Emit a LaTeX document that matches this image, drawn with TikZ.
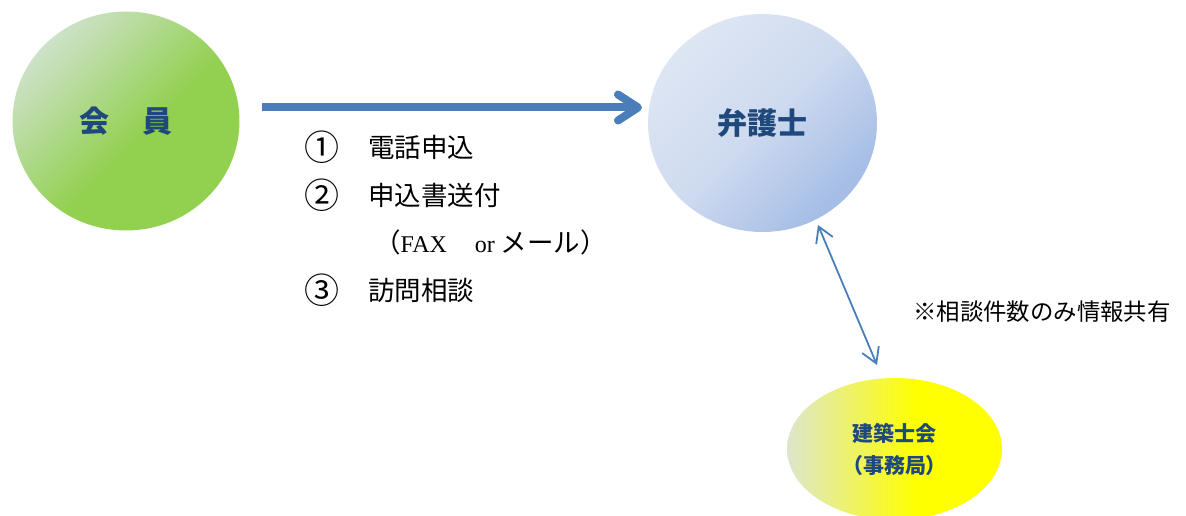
\documentclass[tikz,border=0pt]{standalone}
\usepackage{fontspec}
\setmainfont{Liberation Serif}
\newfontfamily\jp{Noto Sans CJK JP}
\newfontfamily\jpp[RawFeature=+palt]{Noto Sans CJK JP}
\usetikzlibrary{arrows.meta,shapes.geometric}
\definecolor{txtblue}{RGB}{31,73,125}
\definecolor{arrblue}{RGB}{74,126,187}
\definecolor{grnL}{RGB}{205,226,200}
\definecolor{grnD}{RGB}{146,208,80}
\definecolor{bluL}{RGB}{222,230,243}
\definecolor{bluM}{RGB}{206,218,239}
\definecolor{bluD}{RGB}{166,190,230}
\definecolor{yelL}{RGB}{220,230,205}
\definecolor{yelD}{RGB}{255,255,0}
\pgfdeclareverticalshading{grnshade}{100bp}{color(0bp)=(grnD);color(45bp)=(grnD);color(75bp)=(grnL);color(100bp)=(grnL)}
\pgfdeclareverticalshading{blushade}{100bp}{color(0bp)=(bluD);color(27bp)=(bluD);color(50bp)=(bluM);color(75bp)=(bluL);color(100bp)=(bluL)}
\pgfdeclarehorizontalshading{yelshade}{100bp}{color(0bp)=(yelL);color(25bp)=(yelL);color(55bp)=(yelD);color(100bp)=(yelD)}
\tikzset{
  bubble/.style={ellipse, inner sep=0pt, text=txtblue},
  listtxt/.style={anchor=west, inner sep=0pt, font=\fontsize{26.5}{30}\selectfont\jp},
  numtxt/.style={anchor=center, inner sep=0pt, font=\fontsize{35}{40}\selectfont\jp},
  flowarrow/.style={draw=arrblue, line width=8pt, line cap=butt,
    -{Straight Barb[length=20pt,width=26pt,round]}},
  linkarrow/.style={draw=arrblue, line width=1.8pt,
    {Straight Barb[length=15pt,width=18pt]}-{Straight Barb[length=15pt,width=18pt]}}
}
\begin{document}
\begin{tikzpicture}[x=1pt,y=-1pt]
\useasboundingbox (0,0) rectangle (1186,516);
\node[bubble, minimum width=227pt, minimum height=219pt, shading=grnshade, shading angle=45,
  font=\fontsize{30}{36}\selectfont\jp\bfseries]
  (member) at (126,121) {会\hspace{33pt}員};
\node[bubble, minimum width=229pt, minimum height=218pt, shading=blushade, shading angle=45,
  font=\fontsize{30}{36}\selectfont\jp\bfseries]
  (lawyer) at (762.5,123) {弁護士};
\node[bubble, minimum width=215pt, minimum height=142pt, shading=yelshade, align=center,
  font=\fontsize{21}{32}\selectfont\jpp\bfseries]
  (office) at (894.5,449) {建築士会\\（事務局）};
\coordinate (a1) at (262,107.5);
\coordinate (a2) at (642,107.5);
\draw[flowarrow] (a1) -- (a2);
\coordinate (b1) at (818,225);
\coordinate (b2) at (877,365);
\draw[linkarrow] (b1) -- (b2);
\node[numtxt] (n1) at (322,147) {①};
\node[listtxt] (t1) at (368,147) {電話申込};
\node[numtxt] (n2) at (322,195) {②};
\node[listtxt] (t2) at (368,195) {申込書送付};
\node[listtxt] (t3) at (374,242) {（{\rmfamily\fontsize{24}{28}\selectfont FAX\hspace{28pt}or\hspace{6pt}}メール）};
\node[numtxt] (n3) at (322,290) {③};
\node[listtxt] (t4) at (368,290) {訪問相談};
\node[anchor=west, inner sep=0pt, font=\fontsize{23.4}{28}\selectfont\jp] (note) at (913,312) {※相談件数のみ情報共有};
\end{tikzpicture}
\end{document}
